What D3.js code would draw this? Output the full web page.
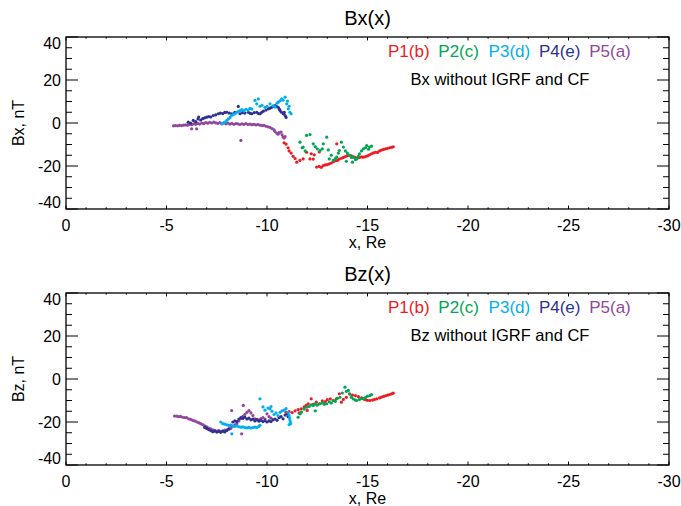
<!DOCTYPE html>
<html>
<head>
<meta charset="utf-8">
<script src="https://cdn.jsdelivr.net/npm/d3@7"></script>
<style>
  body { margin: 0; background: #fff; }
  svg { display: block; font-family: "Liberation Sans", Arial, sans-serif; }
</style>
</head>
<body>
<svg id="chart" width="681" height="506"></svg>
<script>
//tick values and labels
var xTicks = [0, -5, -10, -15, -20, -25, -30];
var yTicks = [40, 20, 0, -20, -40];
var seriesNames = ["P1(b)", "P2(c)", "P3(d)", "P4(e)", "P5(a)"];
var colors = ["#ed1c24", "#00a651", "#00aeef", "#2e3192", "#92479c"];

//Bx, panel 1 : [x, Bx]
var bxP1 = [[-10.85,-9.2],[-10.95,-9.8],[-11.05,-11.5],[-11.1,-13.0],[-11.2,-14.0],[-11.3,-15.5],[-11.4,-16.5],[-11.48,-18.2],[-11.64,-17.4],[-11.8,-16.7],[-11.97,-13.6],[-12.14,-16.7],[-12.2,-14.3],[-12.3,-16.8],[-12.47,-20.5],[-12.6,-20.2],[-12.7,-20.6],[-12.8,-19.8],[-12.9,-19.5],[-13.0,-19.4],[-13.1,-19.0],[-13.2,-18.6],[-13.3,-18.0],[-13.4,-17.6],[-13.47,-9.7],[-13.5,-17.4],[-13.6,-16.8],[-13.7,-16.4],[-13.8,-16.0],[-13.9,-15.6],[-14.0,-15.2],[-14.1,-15.0],[-14.2,-15.3],[-14.3,-15.8],[-14.4,-16.1],[-14.5,-16.3],[-14.6,-16.0],[-14.7,-15.8],[-14.8,-15.9],[-14.9,-15.6],[-15.0,-15.3],[-15.1,-14.8],[-15.2,-14.3],[-15.3,-13.9],[-15.4,-13.6],[-15.5,-13.7],[-15.6,-13.0],[-15.7,-12.6],[-15.8,-12.3],[-15.9,-12.0],[-16.0,-11.8],[-16.1,-11.5],[-16.2,-11.3],[-16.28,-11.1],[-12.6,-13.5],[-12.35,-14.8]];
var bxP2 = [[-11.64,-8.9],[-11.75,-11.5],[-11.8,-11.2],[-11.9,-13.0],[-11.97,-5.8],[-12.14,-5.4],[-12.3,-9.7],[-12.4,-11.0],[-12.5,-12.0],[-12.64,-12.8],[-12.75,-12.0],[-12.8,-9.7],[-12.97,-6.6],[-13.05,-12.5],[-13.1,-16.7],[-13.2,-15.0],[-13.3,-17.4],[-13.4,-16.5],[-13.47,-15.9],[-13.55,-14.0],[-13.6,-12.8],[-13.7,-8.9],[-13.8,-11.2],[-13.9,-13.0],[-14.0,-14.0],[-14.1,-15.0],[-14.2,-16.0],[-14.3,-15.9],[-14.4,-17.0],[-14.46,-16.7],[-14.55,-15.5],[-14.6,-14.3],[-14.7,-13.0],[-14.8,-12.0],[-14.9,-11.5],[-14.96,-10.5],[-15.05,-12.2],[-15.1,-11.2],[-15.2,-10.8],[-13.95,-17.8],[-14.25,-18.2]];
var bxP3 = [[-7.75,-0.4],[-7.85,0.0],[-7.91,0.4],[-8.0,1.2],[-8.08,1.9],[-8.16,2.6],[-8.24,3.5],[-8.32,3.9],[-8.41,4.3],[-8.5,5.0],[-8.58,5.4],[-8.66,5.8],[-8.75,6.2],[-8.85,5.6],[-8.95,6.4],[-9.05,6.0],[-9.15,6.8],[-9.25,6.5],[-9.4,10.5],[-9.49,8.9],[-9.57,11.2],[-9.65,7.8],[-9.75,8.2],[-9.9,7.3],[-10.0,7.8],[-10.15,8.9],[-10.3,8.0],[-10.4,7.5],[-10.5,9.2],[-10.56,9.7],[-10.65,10.3],[-10.73,11.2],[-10.8,10.6],[-10.9,12.0],[-10.98,8.9],[-11.02,10.2],[-11.06,6.6],[-11.1,7.8],[-11.14,5.0],[-11.2,4.3]];
var bxP4 = [[-6.08,0.4],[-6.2,0.0],[-6.33,1.2],[-6.45,0.6],[-6.57,1.9],[-6.6,2.8],[-6.7,1.4],[-6.8,2.0],[-6.9,2.4],[-7.0,2.7],[-7.1,3.0],[-7.2,2.8],[-7.33,3.5],[-7.45,3.8],[-7.58,4.3],[-7.68,4.6],[-7.8,4.4],[-7.9,4.9],[-8.0,5.0],[-8.12,4.6],[-8.25,4.3],[-8.4,5.0],[-8.57,7.7],[-8.66,4.3],[-8.78,4.8],[-8.9,4.6],[-9.07,5.0],[-9.16,4.5],[-9.24,4.3],[-9.36,4.8],[-9.49,5.0],[-9.58,4.4],[-9.66,4.3],[-9.74,5.0],[-9.82,5.5],[-9.95,6.0],[-10.07,6.6],[-10.15,6.9],[-10.23,7.3],[-10.32,7.8],[-10.4,8.1],[-10.48,7.6],[-10.56,7.3],[-10.62,6.4],[-10.65,5.8],[-10.72,5.0],[-10.81,4.3],[-10.86,4.9],[-10.9,3.5],[-10.95,2.6]];
var bxP5 = [[-5.35,-1.3],[-5.45,-1.2],[-5.55,-1.3],[-5.65,-1.1],[-5.75,-1.2],[-5.85,-1.0],[-5.95,-0.9],[-6.05,-1.0],[-6.15,-0.6],[-6.25,-0.8],[-6.35,-0.4],[-6.45,-0.6],[-6.55,-0.2],[-6.65,-0.5],[-6.75,0.0],[-6.85,-0.3],[-6.95,0.2],[-7.05,-0.1],[-7.15,0.3],[-7.25,0.0],[-7.35,0.4],[-7.45,0.1],[-7.55,-0.2],[-7.65,0.2],[-7.75,-0.3],[-7.85,0.1],[-7.95,-0.4],[-8.05,-0.1],[-8.15,-0.5],[-8.25,-0.2],[-8.35,-0.6],[-8.45,-0.3],[-8.55,-0.4],[-8.65,-0.7],[-8.75,-0.4],[-8.85,-0.6],[-8.95,-0.3],[-9.05,-0.7],[-9.15,-0.5],[-9.25,-0.8],[-9.35,-0.6],[-9.45,-0.9],[-9.55,-0.7],[-9.65,-1.0],[-9.75,-1.2],[-9.85,-1.1],[-9.95,-1.5],[-10.05,-1.8],[-10.15,-2.0],[-10.25,-2.6],[-10.35,-3.2],[-10.4,-4.0],[-10.5,-4.8],[-10.55,-5.2],[-10.6,-4.5],[-10.7,-4.2],[-10.75,-5.5],[-10.8,-6.5],[-10.85,-7.0],[-10.9,-6.3],[-6.25,-2.7],[-6.5,-2.7],[-8.7,-8.1]];

//Bz, panel 2 : [x, Bz]
var bzP1 = [[-10.95,-15.5],[-11.1,-15.2],[-11.25,-15.6],[-11.4,-14.8],[-11.55,-14.2],[-11.6,-15.8],[-11.7,-13.9],[-11.85,-13.0],[-11.95,-12.3],[-12.0,-14.6],[-12.05,-11.5],[-12.2,-9.2],[-12.3,-11.8],[-12.45,-10.8],[-12.6,-11.5],[-12.75,-10.2],[-12.9,-10.5],[-13.0,-9.6],[-13.15,-9.2],[-13.3,-10.0],[-13.45,-9.2],[-13.6,-6.9],[-13.7,-10.8],[-13.8,-9.5],[-13.95,-8.5],[-14.1,-6.9],[-14.25,-7.5],[-14.4,-7.7],[-14.55,-8.2],[-14.7,-8.8],[-14.8,-9.2],[-14.9,-9.6],[-15.0,-9.9],[-15.12,-10.0],[-15.25,-9.8],[-15.35,-9.5],[-15.46,-9.2],[-15.6,-8.8],[-15.7,-8.4],[-15.8,-8.1],[-15.9,-7.8],[-16.0,-7.5],[-16.1,-7.2],[-16.2,-6.9],[-16.28,-6.6]];
var bzP2 = [[-11.55,-17.8],[-11.65,-16.2],[-11.72,-15.4],[-11.85,-14.0],[-11.97,-13.1],[-12.1,-12.8],[-12.2,-12.0],[-12.3,-12.3],[-12.4,-11.6],[-12.4,-14.8],[-12.5,-12.2],[-12.64,-11.5],[-12.75,-11.0],[-12.85,-11.8],[-12.97,-11.5],[-13.1,-10.6],[-13.2,-11.2],[-13.3,-10.0],[-13.4,-10.4],[-13.5,-9.0],[-13.63,-8.5],[-13.75,-6.5],[-13.88,-3.8],[-13.95,-5.8],[-14.05,-5.3],[-14.12,-7.0],[-14.2,-8.5],[-14.3,-9.3],[-14.4,-9.8],[-14.46,-10.0],[-14.6,-9.5],[-14.7,-9.0],[-14.8,-9.2],[-14.9,-8.6],[-15.0,-8.0],[-15.12,-7.7],[-15.2,-7.3]];
var bzP3 = [[-7.7,-20.0],[-7.8,-20.8],[-7.9,-21.0],[-8.0,-21.3],[-8.1,-21.6],[-8.2,-21.4],[-8.3,-21.9],[-8.4,-22.0],[-8.5,-21.8],[-8.6,-22.2],[-8.7,-22.4],[-8.8,-22.3],[-8.9,-22.6],[-9.0,-22.7],[-9.1,-22.5],[-9.2,-22.8],[-9.3,-22.6],[-9.4,-22.4],[-9.5,-22.5],[-9.6,-22.0],[-9.65,-21.5],[-8.25,-25.5],[-9.65,-9.2],[-9.8,-13.0],[-9.9,-14.5],[-10.05,-13.5],[-10.15,-13.9],[-10.2,-12.8],[-10.25,-15.0],[-10.35,-16.5],[-10.45,-15.8],[-10.55,-17.0],[-10.65,-15.5],[-10.75,-14.8],[-10.85,-14.5],[-10.95,-13.8],[-11.05,-15.5],[-11.1,-16.8],[-11.12,-18.0],[-11.14,-19.0],[-11.16,-20.0],[-11.18,-20.8],[-11.1,-21.2]];
var bzP4 = [[-6.9,-22.5],[-7.0,-23.0],[-7.1,-23.5],[-7.2,-24.0],[-7.3,-24.5],[-7.4,-24.2],[-7.5,-24.7],[-7.6,-24.4],[-7.7,-24.8],[-7.8,-24.3],[-7.9,-24.6],[-8.0,-24.0],[-8.1,-23.2],[-8.2,-21.5],[-8.3,-20.0],[-8.4,-19.5],[-8.5,-19.8],[-8.6,-18.6],[-8.7,-18.0],[-8.8,-18.3],[-8.9,-17.8],[-9.0,-18.6],[-9.1,-18.2],[-9.2,-19.0],[-9.3,-18.7],[-9.4,-19.5],[-9.5,-19.0],[-9.6,-19.6],[-9.7,-19.2],[-9.8,-19.8],[-9.9,-19.4],[-10.0,-20.0],[-10.1,-19.5],[-10.2,-19.8],[-10.3,-19.0],[-10.4,-18.6],[-10.5,-19.2],[-10.6,-18.0],[-10.7,-17.5],[-10.8,-18.5],[-10.9,-16.8],[-11.0,-16.2],[-11.05,-17.5]];
var bzP5 = [[-5.4,-17.2],[-5.5,-17.3],[-5.6,-17.5],[-5.7,-17.4],[-5.8,-17.8],[-5.9,-17.9],[-6.0,-18.0],[-6.1,-18.5],[-6.2,-18.8],[-6.3,-19.2],[-6.4,-19.5],[-6.5,-19.9],[-6.6,-20.3],[-6.7,-20.8],[-6.8,-21.2],[-6.9,-21.8],[-7.0,-22.3],[-7.1,-22.8],[-7.2,-23.2],[-7.3,-23.6],[-7.4,-23.9],[-7.5,-24.2],[-7.6,-24.0],[-7.7,-24.3],[-7.8,-24.1],[-7.9,-23.8],[-8.0,-23.6],[-8.1,-23.3],[-8.2,-23.0],[-8.3,-22.0],[-8.4,-21.3],[-8.5,-20.8],[-8.6,-19.5],[-8.7,-18.4],[-8.8,-17.4],[-8.9,-16.5],[-9.0,-15.5],[-9.1,-14.7],[-9.2,-15.8],[-9.3,-17.0],[-9.4,-18.5],[-9.5,-18.8],[-9.6,-19.0],[-9.7,-18.4],[-9.8,-17.9],[-9.9,-18.6],[-10.0,-16.2],[-10.1,-17.5],[-10.2,-18.2],[-8.24,-14.7],[-8.82,-12.3],[-8.74,-25.5]];

var svg = d3.select("#chart");
var left = 66, right = 669;

var x = d3.scaleLinear().domain([0, -30]).range([left, right]);

function drawPanel(top, bottom, series, title, ylab, caption){
	var y = d3.scaleLinear().domain([-40, 40]).range([bottom, top]);
	var g = svg.append("g");
	var h = bottom - top, w = right - left;

	//points, drawn P5, P4, P1, P3, P2
	[4, 3, 0, 2, 1].forEach(function(k){
		g.append("g").selectAll("circle")
			.data(series[k])
		  .enter().append("circle")
			.attr("cx", function(d){ return x(d[0]) })
			.attr("cy", function(d){ return y(d[1]) })
			.attr("r", 1.6)
			.attr("fill", colors[k]);
	});

	//ticks inside the box, IDL style
	var xMinor = d3.range(0, -31, -1);
	var yMinor = d3.range(-40, 41, 5);
	var xt = 0.02 * h, yt = 0.02 * w;
	xMinor.forEach(function(v){
		var len = (v % 5 == 0) ? xt : xt / 2;
		g.append("line").attr("x1", x(v)).attr("x2", x(v)).attr("y1", bottom).attr("y2", bottom - len);
		g.append("line").attr("x1", x(v)).attr("x2", x(v)).attr("y1", top).attr("y2", top + len);
	});
	yMinor.forEach(function(v){
		var len = (v % 20 == 0) ? yt : yt / 2;
		g.append("line").attr("x1", left).attr("x2", left + len).attr("y1", y(v)).attr("y2", y(v));
		g.append("line").attr("x1", right).attr("x2", right - len).attr("y1", y(v)).attr("y2", y(v));
	});
	g.selectAll("line").attr("stroke", "#000").attr("stroke-width", 1);

	g.append("rect")
		.attr("x", left).attr("y", top)
		.attr("width", w).attr("height", h)
		.attr("fill", "none").attr("stroke", "#000").attr("stroke-width", 1.3);

	//tick labels; end labels kept inside the box height
	g.selectAll(".xl").data(xTicks).enter().append("text")
		.attr("x", function(d){ return x(d) })
		.attr("y", bottom + 22)
		.attr("text-anchor", "middle")
		.attr("font-size", "16px")
		.text(function(d){ return d });
	g.selectAll(".yl").data(yTicks).enter().append("text")
		.attr("x", left - 5)
		.attr("y", function(d){ return Math.max(top + 12, Math.min(bottom - 1, y(d) + 6)) })
		.attr("text-anchor", "end")
		.attr("font-size", "16px")
		.text(function(d){ return d });

	g.append("text").attr("x", (left + right) / 2).attr("y", bottom + 39)
		.attr("text-anchor", "middle").attr("font-size", "16px").text("x, Re");
	g.append("text").attr("transform", "translate(24," + (top + h / 2) + ") rotate(-90)")
		.attr("text-anchor", "middle").attr("font-size", "16px").text(ylab);
	g.append("text").attr("x", (left + right) / 2).attr("y", top - 12)
		.attr("text-anchor", "middle").attr("font-size", "20px").text(title);

	//legend
	seriesNames.forEach(function(s, i){
		g.append("text").attr("x", 388 + i * 50.3).attr("y", top + 20)
			.attr("font-size", "17px").attr("fill", colors[i]).text(s);
	});
	g.append("text").attr("x", 500).attr("y", top + 48)
		.attr("text-anchor", "middle").attr("font-size", "16.5px").text(caption);
}

drawPanel(37, 209, [bxP1, bxP2, bxP3, bxP4, bxP5], "Bx(x)", "Bx, nT", "Bx without IGRF and CF");
drawPanel(293, 465, [bzP1, bzP2, bzP3, bzP4, bzP5], "Bz(x)", "Bz, nT", "Bz without IGRF and CF");
</script>
</body>
</html>
